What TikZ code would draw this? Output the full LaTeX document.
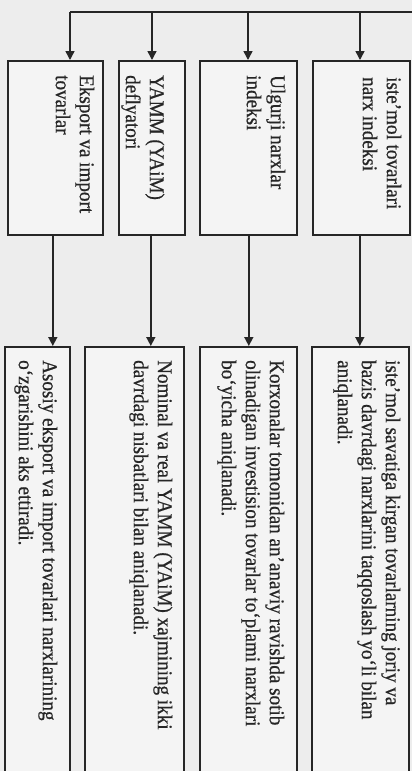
\documentclass[tikz,border=0pt]{standalone}
\usepackage{fontspec}
\setmainfont{Liberation Serif}
\newfontfamily\scanfont[FakeStretch=0.91, FakeBold=0.6]{Liberation Serif}
\usetikzlibrary{arrows.meta}
\definecolor{scangray}{HTML}{EDEDED}
\definecolor{inkgray}{HTML}{262626}

\begin{document}
\begin{tikzpicture}[
    x=1pt, y=-1pt,
    indbox/.style={
        draw=inkgray, line width=1.6pt, fill=scangray!60!white,
        minimum height=174pt, anchor=north west, inner sep=0pt,
    },
    descbox/.style={
        draw=inkgray, line width=1.6pt, fill=scangray!60!white,
        minimum height=440pt, anchor=north west, inner sep=0pt,
    },
    txt/.style={
        rotate=-90, anchor=north west, align=left,
        inner sep=0pt, text=inkgray, font=\scanfont\fontsize{21}{24}\selectfont,
    },
    arr/.style={-{Triangle[width=9pt,length=9pt]}, line width=1.5pt, draw=inkgray},
]

% page
\useasboundingbox (0,0) rectangle (412,771);
\clip (0,0) rectangle (412,771);
\fill[scangray] (0,0) rectangle (412,771);

% index boxes
\node[indbox, minimum width=95pt] (trade) at (7,60) {};
\node[indbox, minimum width=66pt] (defl) at (118,60) {};
\node[indbox, minimum width=97pt] (wpi) at (199,60) {};
\node[indbox, minimum width=97pt] (cpi) at (312,60) {};

\node[txt] at ([shift={(-9,17)}]cpi.north east) {iste’mol tovarlari\\narx indeksi};
\node[txt] at ([shift={(-12,15)}]wpi.north east) {Ulgurji narxlar\\indeksi};
\node[txt] at ([shift={(-21,15)}]defl.north east) {YAMM (YAiM)\\deflyatori};
\node[txt] at ([shift={(-9,15)}]trade.north east) {Eksport va import\\tovarlar};

% description boxes, running off the page
\node[descbox, minimum width=65pt] (tradedesc) at (4,346) {};
\node[descbox, minimum width=99pt] (defldesc) at (84,346) {};
\node[descbox, minimum width=97pt] (wpidesc) at (199,346) {};
\node[descbox, minimum width=97pt] (cpidesc) at (311,346) {};

\node[txt] at ([shift={(-9,14)}]cpidesc.north east)
    {iste’mol savatiga kirgan tovarlarning joriy va\\bazis davrdagi narxlarini taqqoslash yo‘li bilan\\aniqlanadi.};
\node[txt] at ([shift={(-13,14)}]wpidesc.north east)
    {Korxonalar tomonidan an’anaviy ravishda sotib\\olinadigan investision tovarlar to‘plami narxlari\\bo‘yicha aniqlanadi.};
\node[txt] at ([shift={(-12,14)}]defldesc.north east)
    {Nominal va real YAMM (YAiM) xajmining ikki\\davrdagi nisbatlari bilan aniqlanadi.};
\node[txt] at ([shift={(-13,14)}]tradedesc.north east)
    {Asosiy eksport va import tovarlari narxlarining\\o‘zgarishini aks ettiradi.};

% top bus
\coordinate (busend) at (414,12);
\coordinate (bus1) at (70,12);
\coordinate (bus2) at (152,12);
\coordinate (bus3) at (248,12);
\coordinate (bus4) at (360,12);
\draw[inkgray, line width=1.5pt] (busend) -- (bus1);
\draw[arr] (bus1) -- (bus1 |- trade.north);
\draw[arr] (bus2) -- (bus2 |- defl.north);
\draw[arr] (bus3) -- (bus3 |- wpi.north);
\draw[arr] (bus4) -- (bus4 |- cpi.north);

% index -> description
\coordinate (mid1) at ([xshift=-2.5pt]trade.south);
\coordinate (mid2) at ([xshift=-1pt]defl.south);
\coordinate (mid3) at ([xshift=0.5pt]wpi.south);
\coordinate (mid4) at ([xshift=-1.5pt]cpi.south);
\draw[arr] (mid1) -- (mid1 |- tradedesc.north);
\draw[arr] (mid2) -- (mid2 |- defldesc.north);
\draw[arr] (mid3) -- (mid3 |- wpidesc.north);
\draw[arr] (mid4) -- (mid4 |- cpidesc.north);

\end{tikzpicture}
\end{document}
